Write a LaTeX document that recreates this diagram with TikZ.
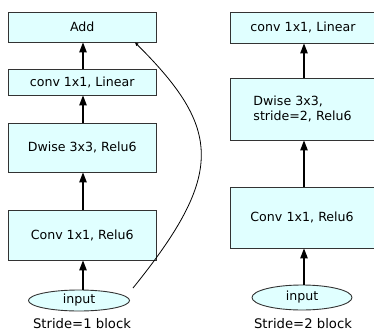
\documentclass[tikz,border=0pt]{standalone}
\usepackage{fontspec}
\setmainfont{DejaVu Sans}
\usetikzlibrary{arrows.meta,shapes.geometric}
\definecolor{boxfill}{HTML}{E0FFFF}
\definecolor{boxdraw}{HTML}{333333}
\tikzset{
  blk/.style={draw=boxdraw, fill=boxfill, line width=0.9pt, inner sep=0pt,
    font=\fontsize{12.6}{15}\selectfont},
  lbox/.style={blk, minimum width=147.5pt},
  rbox/.style={blk, minimum width=150pt, anchor=west},
  inp/.style={draw=boxdraw, fill=boxfill, line width=0.9pt, ellipse, inner sep=0pt,
    font=\fontsize{12.6}{15}\selectfont},
  blocklabel/.style={font=\fontsize{13.2}{16}\selectfont, inner sep=0pt},
  flowarrow/.style={line width=1.1pt, -{Triangle[length=10pt,width=7.5pt]}},
  skiparrow/.style={line width=0.8pt, -{Triangle[length=3.5pt,width=3pt]}}
}
\begin{document}
\begin{tikzpicture}[x=1pt,y=-1pt]
\useasboundingbox (0,0) rectangle (374,331);
\begin{scope}
\clip (0,0) rectangle (374,331);
% left column
\node[lbox, minimum height=30pt] (add) at (82.25,27) {Add};
\node[lbox, minimum height=26pt] (linL) at (82.25,82) {conv 1x1, Linear};
\node[lbox, minimum height=49pt] (dwL) at (82.25,147.5) {Dwise 3x3, Relu6};
\node[lbox, minimum height=50pt] (cvL) at (82.25,235) {Conv 1x1, Relu6};
\node[inp, minimum width=101pt, minimum height=21pt] (inL) at (79,300.5) {input};
\node[blocklabel] (capL) at (82,323.5) {Stride=1 block};
% right column
\node[rbox, minimum height=31pt, text width=150pt, align=left] (linR) at (230,27.5) {\hspace*{20pt}conv 1x1, Linear};
\node[rbox, minimum height=62pt, text width=150pt, align=left] (dwR) at (230,109) {\hspace*{23pt}Dwise 3x3,\\\hspace*{23pt}stride=2, Relu6};
\node[rbox, minimum height=61pt, text width=150pt, align=left] (cvR) at (230,217.5) {\hspace*{20pt}Conv 1x1, Relu6};
\node[inp, minimum width=100pt, minimum height=25pt] (inR) at (302,297.5) {input};
\node[blocklabel] (capR) at (303,323.5) {Stride=2 block};
\end{scope}
% arrows left
\draw[flowarrow] (inL.north -| 83,0) -- (cvL.south -| 83,0);
\draw[flowarrow] (cvL.north -| 83,0) -- (dwL.south -| 83,0);
\draw[flowarrow] (dwL.north -| 83,0) -- (linL.south -| 83,0);
\draw[flowarrow] (linL.north -| 83,0) -- (add.south -| 83,0);
% arrows right
\draw[flowarrow] (inR.north -| 304,0) -- (cvR.south -| 304,0);
\draw[flowarrow] (cvR.north -| 304,0) -- (dwR.south -| 304,0);
\draw[flowarrow] (dwR.north -| 304,0) -- (linR.south -| 304,0);
% skip connection
\coordinate (sk) at (133,288);
\draw[skiparrow] (sk) .. controls (224.8,174.4) and (221.9,128.9) .. (add.south -| 135,0);
\end{tikzpicture}
\end{document}
